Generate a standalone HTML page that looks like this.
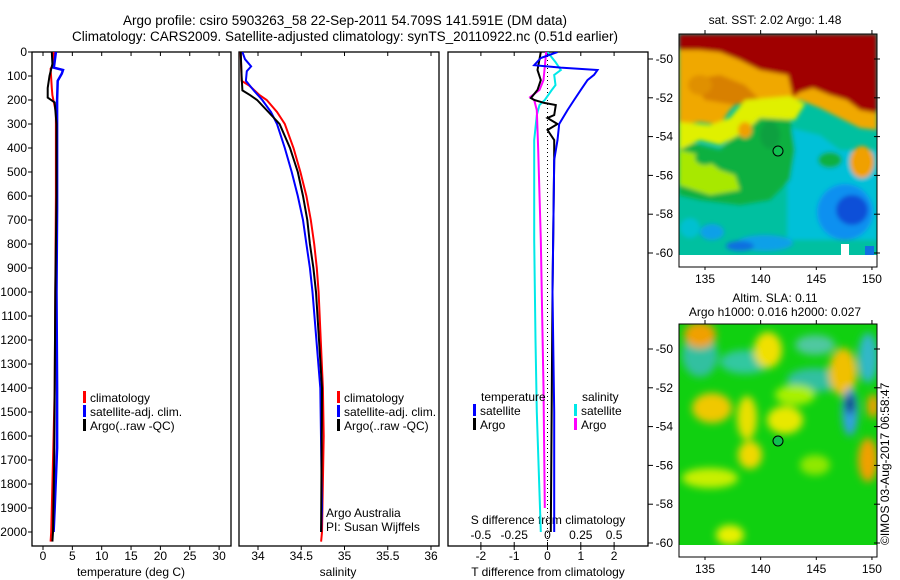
<!DOCTYPE html>
<html><head><meta charset="utf-8">
<style>
html,body{margin:0;padding:0;background:#fff;}
svg{display:block;font-family:"Liberation Sans",sans-serif;}
text{fill:#000;}
</style></head>
<body>
<svg id="chart" width="900" height="580" viewBox="0 0 900 580" xmlns="http://www.w3.org/2000/svg">
<defs>
<filter id="bl" x="-20%" y="-20%" width="140%" height="140%"><feGaussianBlur stdDeviation="2"/></filter>
<filter id="bl2" x="-30%" y="-30%" width="160%" height="160%"><feGaussianBlur stdDeviation="4"/></filter>
<clipPath id="c1"><rect x="32" y="52" width="199" height="494"/></clipPath>
<clipPath id="c2"><rect x="239" y="52" width="200" height="494"/></clipPath>
<clipPath id="c3"><rect x="448" y="52" width="200" height="494"/></clipPath>
<clipPath id="m1"><rect x="679" y="34" width="198" height="233"/></clipPath>
<clipPath id="m2"><rect x="679" y="324" width="198" height="233"/></clipPath>
</defs>
<text x="345" y="25" font-size="13.5" text-anchor="middle">Argo profile: csiro 5903263_58 22-Sep-2011 54.709S 141.591E (DM data)</text>
<text x="345" y="41" font-size="13.5" text-anchor="middle">Climatology: CARS2009. Satellite-adjusted climatology: synTS_20110922.nc (0.51d earlier)</text>

<!-- SST map -->
<g>
<text x="775" y="24" font-size="12" text-anchor="middle">sat. SST: 2.02 Argo: 1.48</text>
<g clip-path="url(#m1)">
<rect x="679" y="34" width="198" height="233" fill="#00c0a0"/>
<g filter="url(#bl)">
<path d="M787,127 L820,135 L840,150 L877,150 V240 H787Z" fill="#00c0d8"/>
<path d="M679,34 H877 V130 L860,128 L840,118 L820,108 L800,100 L780,98 L760,100 L745,95 L730,110 L720,125 L700,122 L679,125Z" fill="#f0a800"/>
<path d="M690,80 L720,75 L745,85 L760,100 L735,105 L705,100Z" fill="#d88000"/>
<path d="M679,140 L720,150 L745,125 L760,118 L790,118 L795,150 L790,180 L770,200 L740,205 L700,200 L679,195Z" fill="#10b040"/>
<path d="M679,122 L710,125 L730,118 L745,100 L790,96 L805,104 L795,120 L760,118 L745,132 L720,145 L700,140 L679,150Z" fill="#e0f000"/>
<path d="M679,150 L700,155 L720,170 L735,175 L740,190 L710,195 L679,185Z" fill="#a8e800"/>
<ellipse cx="745" cy="130" rx="7" ry="8" fill="#f0a000"/>
<path d="M679,34 H877 V113 L860,110 L847,100 L830,95 L813,88 L800,92 L793,97 L788,75 L760,70 L740,60 L720,52 L700,50 L679,50Z" fill="#a00000"/>
<ellipse cx="700" cy="85" rx="12" ry="10" fill="#e09000"/>
<ellipse cx="705" cy="158" rx="10" ry="7" fill="#10b040"/>
<ellipse cx="770" cy="135" rx="10" ry="14" fill="#10a040"/>
<ellipse cx="862" cy="162" rx="12" ry="16" fill="#f0a000"/>
<ellipse cx="830" cy="160" rx="12" ry="8" fill="#10b040"/>
<ellipse cx="845" cy="212" rx="28" ry="28" fill="#1090f0"/>
<ellipse cx="852" cy="210" rx="16" ry="15" fill="#1050d8"/>
<ellipse cx="765" cy="243" rx="28" ry="8" fill="#10a0e8"/>
<ellipse cx="740" cy="246" rx="14" ry="5" fill="#1070e0"/>
<ellipse cx="712" cy="232" rx="12" ry="8" fill="#10a0e8"/>
<ellipse cx="690" cy="228" rx="10" ry="10" fill="#00c0d0"/>
</g>
<rect x="679" y="255" width="198" height="12" fill="#fff"/>
<rect x="841" y="244" width="8" height="11" fill="#fff"/>
<rect x="865" y="246" width="9" height="9" fill="#1070e0"/>
</g>
<rect x="679" y="34" width="198" height="233" fill="none" stroke="#000" stroke-width="1"/>
<circle cx="778" cy="151" r="5" fill="#10c050" stroke="#000"/>
</g>

<!-- SLA map -->
<g>
<text x="775" y="302" font-size="12" text-anchor="middle">Altim. SLA: 0.11</text>
<text x="775" y="316" font-size="12" text-anchor="middle">Argo h1000: 0.016 h2000: 0.027</text>
<g clip-path="url(#m2)">
<rect x="679" y="324" width="198" height="233" fill="#10d010"/>
<g filter="url(#bl2)">
<ellipse cx="700" cy="355" rx="18" ry="22" fill="#30c0a0"/>
<ellipse cx="745" cy="362" rx="25" ry="12" fill="#30c8a0"/>
<ellipse cx="815" cy="380" rx="28" ry="12" fill="#30c0a0"/>
<ellipse cx="815" cy="345" rx="20" ry="10" fill="#50c8a0"/>
<ellipse cx="868" cy="358" rx="10" ry="25" fill="#30b8c8"/>
<ellipse cx="700" cy="335" rx="16" ry="13" fill="#f0a000"/>
<ellipse cx="768" cy="350" rx="14" ry="18" fill="#f0e000"/>
<ellipse cx="843" cy="372" rx="14" ry="24" fill="#f0c000"/>
<ellipse cx="712" cy="408" rx="20" ry="15" fill="#f0c800"/>
<ellipse cx="747" cy="418" rx="10" ry="22" fill="#e8e000"/>
<ellipse cx="785" cy="420" rx="18" ry="14" fill="#e8e800"/>
<ellipse cx="750" cy="455" rx="12" ry="14" fill="#f0d800"/>
<ellipse cx="868" cy="460" rx="10" ry="22" fill="#f0a000"/>
<ellipse cx="795" cy="395" rx="20" ry="10" fill="#a8f000"/>
<ellipse cx="710" cy="478" rx="28" ry="10" fill="#c8f000"/>
<ellipse cx="730" cy="535" rx="14" ry="10" fill="#e8f000"/>
<ellipse cx="815" cy="465" rx="15" ry="10" fill="#90e800"/>
<ellipse cx="850" cy="412" rx="8" ry="24" fill="#30a0e0"/>
<ellipse cx="850" cy="404" rx="4" ry="10" fill="#001070"/>
<ellipse cx="873" cy="406" rx="6" ry="12" fill="#f0a000"/>
</g>
<rect x="679" y="545" width="198" height="12" fill="#fff"/>
</g>
<rect x="679" y="324" width="198" height="233" fill="none" stroke="#000"/>
<circle cx="778" cy="441" r="5" fill="#10c050" stroke="#000"/>
<text transform="translate(889,545) rotate(-90)" font-size="12">©IMOS 03-Aug-2017 06:58:47</text>
</g>
<g id="mapaxes"></g>

<g id="p1"></g>
<g id="p2"></g>
<g id="p3"></g>
</svg>
<script>
// ---- data ----
const tempClimDepth = [0,50,70,150,180,250,300,600,1000,1400,1600,1800,2000,2040];
const tempClim      = [1.8,1.8,1.3,1.5,1.6,2.2,2.2,2.2,2.1,2.0,1.8,1.6,1.4,1.3];
const tempSatDepth  = [0,55,65,75,90,120,200,300,650,1000,1400,1650,1900,2000];
const tempSat       = [2.2,1.9,1.8,3.4,3.2,2.5,2.4,2.4,2.4,2.3,2.4,2.4,2.0,1.8];
const tempArgoDepth = [0,50,100,150,190,210,300,600,1000,1400,1700,2000,2040];
const tempArgo      = [1.5,1.6,1.1,0.8,0.8,2.0,2.3,2.3,2.1,2.0,1.9,1.7,1.6];

const salClimDepth = [0,120,140,180,200,250,300,400,500,600,700,800,900,1000,1400,1600,2000,2040];
const salClim      = [33.80,33.81,33.90,34.02,34.10,34.22,34.31,34.41,34.49,34.56,34.61,34.65,34.68,34.70,34.75,34.76,34.74,34.73];
const salSatDepth  = [0,30,60,80,120,160,200,250,300,400,500,600,700,800,900,1000,1400,1900,2000];
const salSat       = [33.82,33.85,33.92,33.87,33.86,33.95,34.05,34.15,34.22,34.31,34.39,34.46,34.52,34.56,34.60,34.63,34.72,34.74,34.73];
const salArgoDepth = [0,100,160,180,200,250,300,400,500,600,700,800,900,1000,1400,2000];
const salArgo      = [33.80,33.81,33.82,33.91,33.99,34.12,34.25,34.37,34.46,34.52,34.57,34.60,34.64,34.67,34.74,34.73];

const dTSatDepth  = [0,25,55,65,75,95,117,158,200,242,300,367,450,1000,1500,2000];
const dTSat       = [0.3,-0.2,-0.4,0.4,1.5,1.4,1.2,1.0,0.8,0.6,0.35,0.3,0.2,0.15,0.2,0.2];
const dTArgoDepth = [0,75,117,158,192,200,212,221,263,275,300,325,367,450,1000,2000];
const dTArgo      = [-0.2,-0.3,-0.2,-0.3,-0.5,-0.4,-0.1,0.25,0.2,0.0,0.3,0.0,0.2,0.2,0.15,0.1];
const dSSatDepth  = [0,42,75,96,138,160,200,221,263,367,617,783,1200,1500,2000];
const dSSat       = [0.0,0.06,0.1,0.05,0.06,0.03,-0.02,-0.06,-0.08,-0.1,-0.1,-0.1,-0.09,-0.08,-0.05];
const dSArgoDepth = [0,117,158,188,200,242,408,783,1400,1900];
const dSArgo      = [-0.01,-0.03,-0.06,-0.13,-0.1,-0.08,-0.07,-0.05,-0.03,-0.02];

const depthTicks = [0,100,200,300,400,500,600,700,800,900,1000,1100,1200,1300,1400,1500,1600,1700,1800,1900,2000];
const tempTicks = [0,5,10,15,20,25,30];
const salTicks = [34,34.5,35,35.5,36];
const salTickLabels = ["34","34.5","35","35.5","36"];
const dTTicks = [-2,-1,0,1,2];
const dSTicks = [-0.5,-0.25,0,0.25,0.5];
const dSTickLabels = ["-0.5","-0.25","0","0.25","0.5"];
const latTicks = [-50,-52,-54,-56,-58,-60];
const lonTicks = [135,140,145,150];

// ---- scales ----
const NS="http://www.w3.org/2000/svg";
const yD = d => 52 + d*0.24;
const xT = v => 43 + v*5.87;
const xS = v => 258 + (v-34)*86.5;
const xDT = v => 547.5 + v*33.3;
const xDS = v => 547.5 + v*133.2;
const latY1 = l => 59 + (-50 - l)*19.4;
const latY2 = l => 349 + (-50 - l)*19.4;
const lonX = l => 705 + (l-135)*11.13;

function mk(parent, tag, attrs){const e=document.createElementNS(NS,tag);for(const k in attrs)e.setAttribute(k,attrs[k]);parent.appendChild(e);return e;}
function txt(parent,x,y,s,anchor,size){const t=mk(parent,'text',{x:x,y:y,'font-size':size||12,'text-anchor':anchor||'start'});t.textContent=s;return t;}
function line(parent,depths,vals,xf,color,w,clip,name){
  let d='';
  for(let i=0;i<depths.length;i++){d+=(i?'L':'M')+xf(vals[i]).toFixed(1)+','+yD(depths[i]).toFixed(1);}
  const p=mk(parent,'path',{d:d,fill:'none',stroke:color,'stroke-width':w,'clip-path':clip});
  
  
  return p;
}
function frame(g,x0,x1,name){
  const r=mk(g,'rect',{x:x0,y:52,width:x1-x0,height:494,fill:'none',stroke:'#000','stroke-width':1.3});
  
  
}
function legendEntry(g,x,y,color,label){
  const b=mk(g,'rect',{x:x,y:y-11,width:3,height:12,fill:color});
  
  
  const t=txt(g,x+7,y,label,'start',12);
  
  
}

// ---- panel 1 ----
const p1=document.getElementById('p1');
frame(p1,32,231,'temperature-plot-frame');
depthTicks.forEach(d=>{
  mk(p1,'line',{x1:28,x2:32,y1:yD(d),y2:yD(d),stroke:'#000'});
  const t=txt(p1,27,yD(d)+4,String(d),'end',12);
  
  
});
tempTicks.forEach(v=>{
  mk(p1,'line',{x1:xT(v),x2:xT(v),y1:52,y2:56,stroke:'#000'});
  mk(p1,'line',{x1:xT(v),x2:xT(v),y1:546,y2:550,stroke:'#000'});
  const t=txt(p1,xT(v),560,String(v),'middle',12);
  
  
});
{const t=txt(p1,131,576,'temperature (deg C)','middle',12);}
line(p1,tempClimDepth,tempClim,xT,'#f00',2,'url(#c1)','temperature-climatology-line');
line(p1,tempSatDepth,tempSat,xT,'#00f',2.5,'url(#c1)','temperature-satellite-line');
line(p1,tempArgoDepth,tempArgo,xT,'#000',2,'url(#c1)','temperature-argo-line');
legendEntry(p1,83,402,'#f00','climatology');
legendEntry(p1,83,416,'#00f','satellite-adj. clim.');
legendEntry(p1,83,430,'#000','Argo(..raw -QC)');

// ---- panel 2 ----
const p2=document.getElementById('p2');
frame(p2,239,439,'salinity-plot-frame');
salTicks.forEach((v,i)=>{
  mk(p2,'line',{x1:xS(v),x2:xS(v),y1:52,y2:56,stroke:'#000'});
  mk(p2,'line',{x1:xS(v),x2:xS(v),y1:546,y2:550,stroke:'#000'});
  const t=txt(p2,xS(v),560,salTickLabels[i],'middle',12);
  
  
});
{const t=txt(p2,338,576,'salinity','middle',12);}
line(p2,salClimDepth,salClim,xS,'#f00',2,'url(#c2)','salinity-climatology-line');
line(p2,salSatDepth,salSat,xS,'#00f',2,'url(#c2)','salinity-satellite-line');
line(p2,salArgoDepth,salArgo,xS,'#000',2,'url(#c2)','salinity-argo-line');
legendEntry(p2,337,402,'#f00','climatology');
legendEntry(p2,337,416,'#00f','satellite-adj. clim.');
legendEntry(p2,337,430,'#000','Argo(..raw -QC)');
{const t=txt(p2,326,517,'Argo Australia','start',12);}
{const t=txt(p2,326,531,'PI: Susan Wijffels','start',12);}

// ---- panel 3 ----
const p3=document.getElementById('p3');
frame(p3,448,648,'difference-plot-frame');
dTTicks.forEach(v=>{
  mk(p3,'line',{x1:xDT(v),x2:xDT(v),y1:52,y2:56,stroke:'#000'});
  mk(p3,'line',{x1:xDT(v),x2:xDT(v),y1:546,y2:550,stroke:'#000'});
  const t=txt(p3,xDT(v),560,String(v),'middle',12);
  
  
});
dSTicks.forEach((v,i)=>{
  mk(p3,'line',{x1:xDS(v),x2:xDS(v),y1:542,y2:546,stroke:'#000'});
  const t=txt(p3,xDS(v),539,dSTickLabels[i],'middle',12);
  
  
});
latTicks.forEach(l=>{
  mk(p3,'line',{x1:648,x2:653,y1:latY1(l),y2:latY1(l),stroke:'#000'});
  mk(p3,'line',{x1:648,x2:653,y1:latY2(l),y2:latY2(l),stroke:'#000'});
});
{const t=txt(p3,548,576,'T difference from climatology','middle',12);}
{const t=txt(p3,548,524,'S difference from climatology','middle',12);}
mk(p3,'line',{x1:xDT(0),x2:xDT(0),y1:52,y2:546,stroke:'#000','stroke-dasharray':'1,3'});
line(p3,dSSatDepth,dSSat,xDS,'#00e8e8',2,'url(#c3)','salinity-diff-satellite-line');
line(p3,dSArgoDepth,dSArgo,xDS,'#f0f',2,'url(#c3)','salinity-diff-argo-line');
line(p3,dTArgoDepth,dTArgo,xDT,'#000',2,'url(#c3)','temperature-diff-argo-line');
line(p3,dTSatDepth,dTSat,xDT,'#00f',2,'url(#c3)','temperature-diff-satellite-line');
{const t=txt(p3,481,401,'temperature','start',12);}
{const t=txt(p3,582,401,'salinity','start',12);}
legendEntry(p3,473,415,'#00f','satellite');
legendEntry(p3,473,429,'#000','Argo');
legendEntry(p3,574,415,'#00e8e8','satellite');
legendEntry(p3,574,429,'#f0f','Argo');

// ---- map axes ----
const ma=document.getElementById('mapaxes');
[[latY1,267],[latY2,557]].forEach(([lf,bottom],mi)=>{
  latTicks.forEach(l=>{
    mk(ma,'line',{x1:874,x2:880,y1:lf(l),y2:lf(l),stroke:'#000'});
    const t=txt(ma,673,lf(l)+4,String(l),'end',12);
    
    
  });
  lonTicks.forEach(l=>{
    mk(ma,'line',{x1:lonX(l),x2:lonX(l),y1:bottom-233-4,y2:bottom-233,stroke:'#000'});
    mk(ma,'line',{x1:lonX(l),x2:lonX(l),y1:bottom,y2:bottom+3,stroke:'#000'});
    const t=txt(ma,lonX(l),bottom+16,String(l),'middle',12);
    
    
  });
});
</script>
</body></html>
